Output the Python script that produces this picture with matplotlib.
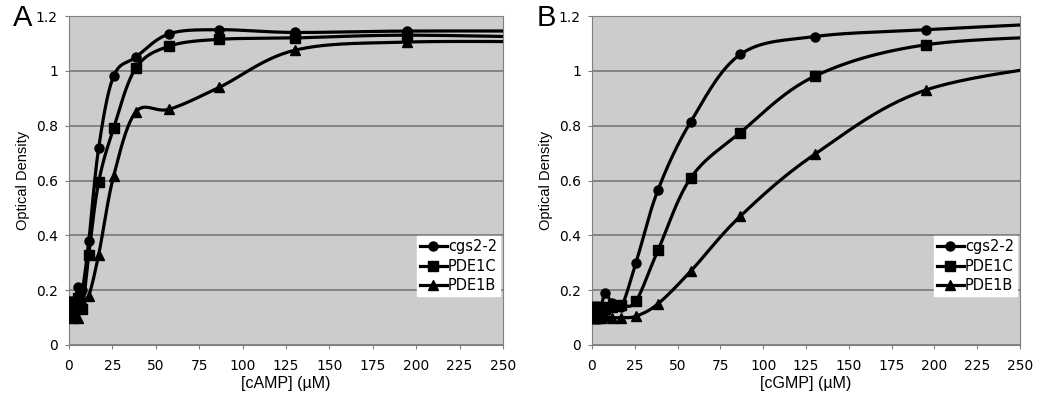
import matplotlib
matplotlib.use('Agg')
import matplotlib.pyplot as plt
import numpy as np

# 1.5-fold dilution series starting at 292.5 uM
conc = 292.5 / 1.5 ** np.arange(15)
conc = np.append(conc, 0.0)[::-1]

# panel A, cAMP
camp_cgs = [0.16, 0.15, 0.16, 0.14, 0.15, 0.21, 0.20, 0.38, 0.72, 0.98, 1.05, 1.135, 1.15, 1.14, 1.145, 1.145]
camp_1c = [0.14, 0.12, 0.13, 0.12, 0.13, 0.17, 0.13, 0.33, 0.595, 0.79, 1.01, 1.09, 1.115, 1.12, 1.13, 1.12]
camp_1b = [0.11, 0.11, 0.10, 0.11, 0.11, 0.10, 0.16, 0.18, 0.33, 0.615, 0.85, 0.86, 0.94, 1.075, 1.105, 1.105]

# panel B, cGMP
cgmp_cgs = [0.12, 0.13, 0.12, 0.13, 0.13, 0.13, 0.19, 0.155, 0.14, 0.30, 0.565, 0.815, 1.06, 1.125, 1.15, 1.18]
cgmp_1c = [0.14, 0.14, 0.13, 0.14, 0.14, 0.14, 0.13, 0.14, 0.145, 0.16, 0.345, 0.61, 0.775, 0.98, 1.095, 1.13]
cgmp_1b = [0.10, 0.10, 0.10, 0.10, 0.10, 0.10, 0.105, 0.10, 0.10, 0.105, 0.15, 0.27, 0.47, 0.695, 0.93, 1.04]

names = ['cgs2-2', 'PDE1C', 'PDE1B']
markers = ['o', 's', '^']


# excel-style smoothed line (bezier through the points)
def smooth(x, y, n=30):
    p = np.column_stack([x, y])
    p = np.vstack([p[0], p, p[-1]])
    out = []
    for i in range(1, len(p) - 2):
        p0, p1, p2, p3 = p[i - 1], p[i], p[i + 1], p[i + 2]
        c1 = p1 + (p2 - p0) / 6
        c2 = p2 - (p3 - p1) / 6
        t = np.linspace(0, 1, n)[:, None]
        seg = (1 - t) ** 3 * p1 + 3 * (1 - t) ** 2 * t * c1 + 3 * (1 - t) * t ** 2 * c2 + t ** 3 * p2
        out.append(seg)
    out = np.vstack(out)
    return out[:, 0], out[:, 1]


fig = plt.figure(figsize=(10.5, 4), dpi=100)
ax_a = fig.add_axes([0.0657, 0.1375, 0.4133, 0.8225])
ax_b = fig.add_axes([0.5638, 0.1375, 0.4076, 0.8225])

panels = [(ax_a, [camp_cgs, camp_1c, camp_1b], '[cAMP] (\u00b5M)', 'A'),
          (ax_b, [cgmp_cgs, cgmp_1c, cgmp_1b], '[cGMP] (\u00b5M)', 'B')]

for ax, series, xlab, letter in panels:
    ax.set_facecolor('#cccccc')
    for ys, nm, mk in zip(series, names, markers):
        sx, sy = smooth(conc, ys)
        ax.plot(sx, sy, color='black', lw=2.3, zorder=3)
        ax.plot(conc, ys, ls='none', marker=mk, ms=6.5, color='black', zorder=4)
        ax.plot([], [], color='black', lw=2.3, marker=mk, ms=6.5, label=nm)
    ax.set_xlim(0, 250)
    ax.set_ylim(0, 1.2)
    ax.set_xticks(np.arange(0, 251, 25))
    ax.set_yticks(np.arange(0, 1.21, 0.2))
    ax.set_yticklabels(['0', '0.2', '0.4', '0.6', '0.8', '1', '1.2'])
    ax.yaxis.grid(True, color='#777777', lw=1.2)
    ax.set_axisbelow(True)
    for s in ax.spines.values():
        s.set_color('#808080')
    ax.tick_params(colors='#808080', labelcolor='black', labelsize=10, length=3)
    ax.tick_params(axis='x', pad=7)
    ax.tick_params(axis='y', pad=5)
    for lb in ax.get_xticklabels() + ax.get_yticklabels():
        lb.set_family('DejaVu Sans')
    ax.set_xlabel(xlab, fontsize=11.5, family='Liberation Sans', labelpad=2)
    ax.set_ylabel('Optical Density', fontsize=10.5, family='Liberation Sans', labelpad=4)
    leg = ax.legend(loc='lower right', bbox_to_anchor=(1.0, 0.14), frameon=True, fancybox=False,
                    edgecolor='white', framealpha=1, handlelength=1.8,
                    handletextpad=0.1, labelspacing=0.3, borderpad=0.2, borderaxespad=0.2,
                    prop={'family': 'DejaVu Sans', 'size': 10.5})
    ax.text(-0.129, 0.995, letter, transform=ax.transAxes, fontsize=21,
            family='Liberation Sans', va='center', ha='left')

fig.savefig('out.png', dpi=100)
